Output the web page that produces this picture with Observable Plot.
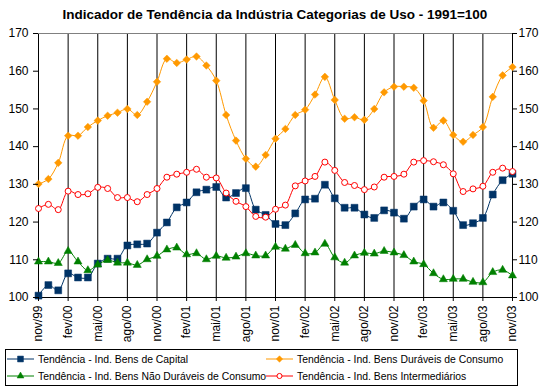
<!DOCTYPE html>
<html>
<head>
<meta charset="utf-8">
<script src="https://cdn.jsdelivr.net/npm/d3@7"></script>
<script src="https://cdn.jsdelivr.net/npm/@observablehq/plot@0.6"></script>
<style>
  html, body { margin: 0; padding: 0; background: #fff; }
  body { width: 550px; height: 391px; position: relative; overflow: hidden; font-family: "Liberation Sans", Arial, sans-serif; }
  #title { position: absolute; left: 0; top: 7px; width: 550px; text-align: center; font-weight: bold; font-size: 13.5px; line-height: 16px; color: #000; }
  #chart { position: absolute; left: 0; top: 25px; }
  #legend { position: absolute; left: 5px; top: 349px; width: 511px; height: 35px; border: 1px solid #000; font-size: 10.4px; color: #000; }
  .item { position: absolute; display: flex; align-items: center; height: 14px; white-space: nowrap; }
  .item svg { display: block; margin-right: 3px; }
</style>
</head>
<body>
<div id="title">Indicador de Tendência da Indústria Categorias de Uso - 1991=100</div>
<div id="chart"></div>
<div id="legend"></div>
<script>
const months = ["nov/99","dez/99","jan/00","fev/00","mar/00","abr/00","mai/00","jun/00","jul/00","ago/00","set/00","out/00",
  "nov/00","dez/00","jan/01","fev/01","mar/01","abr/01","mai/01","jun/01","jul/01","ago/01","set/01","out/01",
  "nov/01","dez/01","jan/02","fev/02","mar/02","abr/02","mai/02","jun/02","jul/02","ago/02","set/02","out/02",
  "nov/02","dez/02","jan/03","fev/03","mar/03","abr/03","mai/03","jun/03","jul/03","ago/03","set/03","out/03","nov/03"];

const tickLabels = ["nov/99","fev/00","mai/00","ago/00","nov/00","fev/01","mai/01","ago/01","nov/01","fev/02","mai/02","ago/02","nov/02","fev/03","mai/03","ago/03","nov/03"];
const yTicks = [100, 110, 120, 130, 140, 150, 160, 170];

const capital = [100.5,103.3,101.9,106.4,105.3,105.3,109.0,110.3,110.3,113.8,114.1,114.3,
  117.2,119.9,123.9,125.2,127.9,128.6,129.3,126.5,127.7,129.0,123.3,121.9,
  119.5,119.2,122.3,126.0,126.2,129.9,126.3,123.8,123.8,122.0,121.1,123.1,
  122.5,120.9,124.1,126.0,124.1,125.2,123.0,119.2,119.7,121.1,127.3,131.1,132.8];

const duraveis = [130.1,131.4,135.7,142.9,142.9,145.2,146.9,148.2,149.0,150.0,148.4,151.9,
  157.2,163.3,162.2,163.1,163.9,161.5,157.5,148.4,141.6,136.8,134.7,137.8,
  142.1,144.7,148.4,149.8,153.8,158.5,152.4,147.4,147.8,147.1,150.0,154.4,
  155.9,155.9,155.6,152.2,145.0,146.9,143.1,141.3,143.1,145.2,153.2,158.9,161.1];

const naoDuraveis = [109.5,109.5,109.1,112.3,109.5,107.2,108.7,109.9,109.2,109.2,108.6,110.1,
  111.0,112.7,113.2,111.4,111.7,110.1,111.0,110.5,110.8,111.7,111.1,111.1,
  113.4,112.9,113.9,111.7,111.9,114.2,110.6,109.2,111.1,111.8,111.6,112.3,
  111.9,111.2,109.5,108.8,106.4,104.8,104.9,104.9,104.1,104.0,106.7,107.3,105.8];

const intermediarios = [123.6,124.7,123.3,128.2,127.3,127.5,129.2,128.9,126.5,126.5,125.4,127.3,
  128.9,131.9,132.7,133.2,134.0,131.9,131.7,127.7,125.5,124.1,121.5,121.3,
  123.4,124.5,129.6,130.9,132.1,135.9,133.7,130.5,129.7,128.6,129.3,131.9,
  132.1,132.7,135.9,136.3,136.0,135.2,132.8,128.1,128.8,129.5,133.2,134.3,133.4];

const seriesNames = ["Tendência - Ind. Bens de Capital","Tendência - Ind. Bens Duráveis de Consumo",
  "Tendência - Ind. Bens Não Duráveis de Consumo","Tendência - Ind. Bens Intermediários"];
const seriesColors = ["#003366","#FF9900","#008000","#FF0000"];
const seriesValues = [capital, duraveis, naoDuraveis, intermediarios];
const seriesSymbols = ["square","diamond2","triangle","circle"];
const seriesR = [3.9, 3.4, 3.0, 3.0];

const marks = [
  Plot.ruleX(tickLabels, {stroke: "#000", strokeWidth: 1}),
  Plot.ruleY([170], {stroke: "#808080", strokeWidth: 1}),
  Plot.ruleY([100], {stroke: "#000", strokeWidth: 1})
];
seriesValues.forEach((vals, k) => {
  const data = months.map((m, i) => ({m, v: vals[i]}));
  marks.push(Plot.line(data, {x: "m", y: "v", stroke: seriesColors[k], strokeWidth: 1, curve: "catmull-rom"}));
  const hollow = seriesSymbols[k] === "circle";
  marks.push(Plot.dot(data, {x: "m", y: "v", symbol: seriesSymbols[k], r: seriesR[k],
    fill: hollow ? "#fff" : seriesColors[k], stroke: seriesColors[k], strokeWidth: hollow ? 1 : 0.5}));
});
marks.push(Plot.axisY(yTicks, {anchor: "left", tickSize: 5, tickPadding: 5, fontSize: 12, label: null}));
marks.push(Plot.axisY(yTicks, {anchor: "right", tickSize: 4, tickPadding: 2, fontSize: 12, label: null}));
marks.push(Plot.axisX(tickLabels, {anchor: "bottom", tickSize: 4, tickPadding: 4, tickRotate: -90, fontSize: 12, label: null}));

const chart = Plot.plot({
  width: 550,
  height: 322,
  marginLeft: 38,
  marginRight: 38,
  marginTop: 8,
  marginBottom: 50,
  style: {fontFamily: "'Liberation Sans', Arial, sans-serif", fontSize: "12px", color: "#000", background: "#fff"},
  x: {type: "point", domain: months, padding: 0},
  y: {domain: [100, 170]},
  marks
});
document.getElementById("chart").appendChild(chart);

// Legend
const legend = document.getElementById("legend");
const pos = [[0, 2], [259, 2], [0, 19], [259, 19]];
seriesNames.forEach((name, k) => {
  const div = document.createElement("div");
  div.className = "item";
  div.style.left = pos[k][0] + "px";
  div.style.top = pos[k][1] + "px";
  const svg = d3.create("svg").attr("width", 29).attr("height", 14);
  svg.append("line").attr("x1", 1).attr("x2", 28).attr("y1", 7).attr("y2", 7)
    .attr("stroke", seriesColors[k]).attr("stroke-width", 1);
  const sym = {square: d3.symbolSquare, diamond2: d3.symbolDiamond2, triangle: d3.symbolTriangle, circle: d3.symbolCircle}[seriesSymbols[k]];
  const hollow = seriesSymbols[k] === "circle";
  svg.append("path").attr("transform", "translate(14.5,7)")
    .attr("d", d3.symbol(sym, Math.PI * (seriesR[k] * 0.85) ** 2)())
    .attr("fill", hollow ? "#fff" : seriesColors[k]).attr("stroke", seriesColors[k]).attr("stroke-width", hollow ? 1 : 0.5);
  div.appendChild(svg.node());
  const span = document.createElement("span");
  span.textContent = name;
  div.appendChild(span);
  legend.appendChild(div);
});
</script>
</body>
</html>
